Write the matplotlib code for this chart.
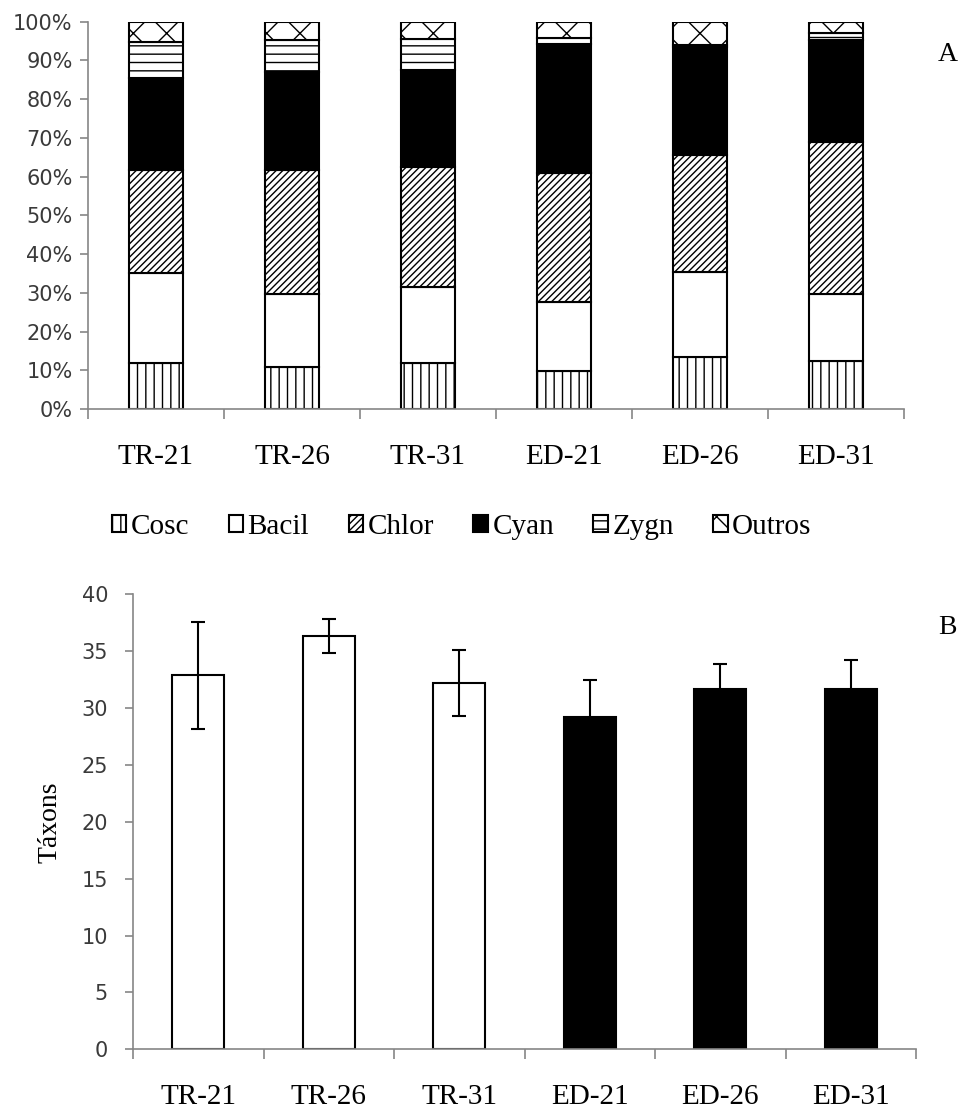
import matplotlib.pyplot as plt
import numpy as np

plt.rcParams['hatch.linewidth'] = 1.0

categorias = ['TR-21', 'TR-26', 'TR-31', 'ED-21', 'ED-26', 'ED-31']

# composicao relativa (%) de cada grupo por tratamento
cosc = [12.0, 10.9, 12.0, 9.8, 13.4, 12.4]
bacil = [23.0, 18.9, 19.5, 17.9, 22.1, 17.4]
chlor = [26.8, 32.0, 30.9, 33.2, 30.1, 39.2]
cyan = [23.6, 25.3, 25.2, 33.4, 27.8, 26.3]
zygn = [9.3, 8.1, 8.0, 1.6, 0.6, 1.8]
outros = [5.3, 4.8, 4.4, 4.1, 6.0, 2.9]

grupos = ['Cosc', 'Bacil', 'Chlor', 'Cyan', 'Zygn', 'Outros']
hachuras = ['||', '', '/////', '', '--', 'x']
cores = ['white', 'white', 'white', 'black', 'white', 'white']

# riqueza de taxons (media e desvio)
taxons = [32.9, 36.3, 32.2, 29.2, 31.7, 31.7]
desvio = [4.7, 1.5, 2.9, 3.3, 2.2, 2.5]
cor_taxons = ['white', 'white', 'white', 'black', 'black', 'black']

cinza = '#868686'
serif = 'Liberation Serif'
sans = 'DejaVu Sans'

fig = plt.figure(figsize=(9.74, 11.13), dpi=100)

def estilo(ax, ypad):
    for s in ['top', 'right']:
        ax.spines[s].set_visible(False)
    for s in ['left', 'bottom']:
        ax.spines[s].set_color(cinza)
        ax.spines[s].set_linewidth(1.2)
    ax.set_xlim(-0.5, len(categorias) - 0.5)
    ax.set_xticks(np.arange(len(categorias) + 1) - 0.5)
    ax.set_xticklabels([])
    ax.set_xticks(np.arange(len(categorias)), categorias, minor=True)
    ax.tick_params(axis='x', which='major', direction='out', length=7, width=1.2, color=cinza)
    ax.tick_params(axis='x', which='minor', length=0, pad=25)
    ax.tick_params(axis='y', direction='out', length=6, width=1.2, color=cinza, pad=ypad,
                   labelsize=15, labelcolor='#3a3a3a')
    for t in ax.get_xticklabels(minor=True):
        t.set_fontfamily(serif)
        t.set_fontsize(21)
    for t in ax.get_yticklabels():
        t.set_fontfamily(sans)

# A - composicao
ax1 = fig.add_axes([0.0903, 0.6325, 0.8378, 0.348])
x = np.arange(len(categorias))
base = np.zeros(len(categorias))
barras = []
for nome, valores, h, c in zip(grupos, [cosc, bacil, chlor, cyan, zygn, outros], hachuras, cores):
    b = ax1.bar(x, valores, 0.4, bottom=base, color=c, edgecolor='black', linewidth=1.5,
                hatch=h, label=nome)
    barras.append(b)
    base += np.array(valores)
ax1.set_ylim(0, 100)
ax1.set_yticks(np.arange(0, 101, 10))
ax1.set_yticklabels([f'{v}%' for v in range(0, 101, 10)])
estilo(ax1, 5)
fig.text(0.973, 0.951, 'A', fontfamily=serif, fontsize=20, ha='center', va='center')

fig.legend(handles=barras, loc='center', bbox_to_anchor=(0.474, 1 - 527 / 1113), ncol=6,
           frameon=False, prop={'family': serif, 'size': 21}, handlelength=0.5,
           handleheight=0.55, handletextpad=0.15, columnspacing=1.35, borderaxespad=0)

# B - riqueza
ax2 = fig.add_axes([0.1366, 0.0572, 0.8039, 0.4088])
ax2.bar(x, taxons, 0.4, color=cor_taxons, edgecolor='black', linewidth=1.5, zorder=2)
ax2.errorbar(x, taxons, yerr=desvio, fmt='none', ecolor='black', elinewidth=1.5,
             capsize=5, capthick=1.5, zorder=3)
ax2.set_ylim(0, 40)
ax2.set_yticks(np.arange(0, 41, 5))
estilo(ax2, 12)
ax2.set_ylabel('Táxons', fontfamily=serif, fontsize=20, labelpad=14)
fig.text(0.973, 0.436, 'B', fontfamily=serif, fontsize=20, ha='center', va='center')

fig.savefig('out.png', dpi=100, facecolor='white')
